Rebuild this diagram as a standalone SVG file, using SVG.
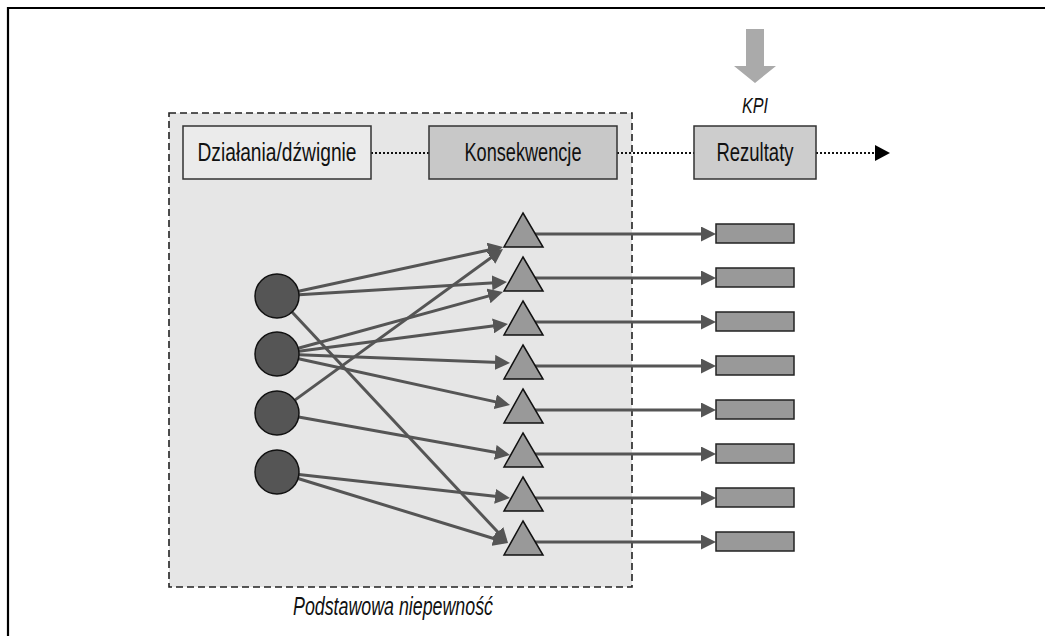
<svg xmlns="http://www.w3.org/2000/svg" width="1045" height="636" viewBox="0 0 1045 636">
<defs>
<style>
.lbl{font-family:"Liberation Sans Narrow","Liberation Sans",Arial,sans-serif;font-size:25px;fill:#111;text-anchor:middle}
.it{font-style:italic}
.box{stroke:#333;stroke-width:1.5}
.dot{stroke:#111;stroke-width:2.2;stroke-dasharray:2 2;fill:none}
.con{stroke:#555;stroke-width:3;fill:none;marker-end:url(#ah)}
.circ{fill:#555;stroke:#111;stroke-width:1.5}
.tri{fill:#999;stroke:#111;stroke-width:1.5}
.out{fill:#999;stroke:#222;stroke-width:1.5}
</style>
<marker id="ah" markerUnits="userSpaceOnUse" markerWidth="15" markerHeight="15" refX="11" refY="7.5" orient="auto">
<path d="M0,0 L15,7.5 L0,15 z" fill="#555"/>
</marker>
<marker id="bh" markerUnits="userSpaceOnUse" markerWidth="15" markerHeight="16" refX="1" refY="8" orient="auto">
<path d="M0,0 L15,8 L0,16 z" fill="#000"/>
</marker>
</defs>
<rect width="1045" height="636" fill="#fff"/>
<path d="M8,636 V8 H1045" fill="none" stroke="#000" stroke-width="2.2"/>

<g id="uncertainty">
<rect x="169" y="113" width="463" height="474" fill="#e6e6e6" stroke="#222" stroke-width="1.6" stroke-dasharray="7 4"/>
<text class="lbl it" x="393" y="615" textLength="200" lengthAdjust="spacingAndGlyphs">Podstawowa niepewność</text>
</g>

<g id="kpi">
<path d="M746,29 H764 V66 H776 L755,83 L734,66 H746 Z" fill="#aaa"/>
<text class="lbl it" x="755" y="113" style="font-size:22px" textLength="26" lengthAdjust="spacingAndGlyphs">KPI</text>
</g>

<g id="connectors">
<line class="dot" x1="371" y1="153" x2="429" y2="153"/>
<line class="dot" x1="617" y1="153" x2="694" y2="153"/>
<line class="dot" x1="816" y1="153" x2="876" y2="153" marker-end="url(#bh)"/>

<line class="con" x1="298.5" y1="291.3" x2="499.1" y2="247.8"/>
<line class="con" x1="299" y1="294.7" x2="503" y2="282.2"/>
<line class="con" x1="292" y1="312" x2="505.3" y2="540.1"/>
<line class="con" x1="298.2" y1="348.2" x2="499.1" y2="293.1"/>
<line class="con" x1="298.8" y1="351.2" x2="504" y2="324.5"/>
<line class="con" x1="299" y1="354.8" x2="506" y2="362.8"/>
<line class="con" x1="298.5" y1="358.7" x2="506.1" y2="404.1"/>
<line class="con" x1="294.8" y1="400.1" x2="499.8" y2="251.3"/>
<line class="con" x1="298.6" y1="416.9" x2="506.1" y2="454.3"/>
<line class="con" x1="298.9" y1="474.4" x2="506" y2="497.6"/>
<line class="con" x1="298" y1="478.5" x2="504.2" y2="541.8"/>

<line class="con" x1="530" y1="234" x2="712" y2="234"/>
<line class="con" x1="530" y1="278" x2="712" y2="278"/>
<line class="con" x1="530" y1="322" x2="712" y2="322"/>
<line class="con" x1="530" y1="366" x2="712" y2="366"/>
<line class="con" x1="530" y1="410" x2="712" y2="410"/>
<line class="con" x1="530" y1="454" x2="712" y2="454"/>
<line class="con" x1="530" y1="498" x2="712" y2="498"/>
<line class="con" x1="530" y1="542" x2="712" y2="542"/>
</g>

<g id="dzialania">
<rect class="box" x="183" y="126" width="188" height="53" fill="#ebebeb"/>
<text class="lbl" x="277" y="161" textLength="159" lengthAdjust="spacingAndGlyphs">Działania/dźwignie</text>
</g>
<g id="konsekwencje">
<rect class="box" x="429" y="126" width="188" height="53" fill="#c8c8c8"/>
<text class="lbl" x="523" y="161" textLength="117" lengthAdjust="spacingAndGlyphs">Konsekwencje</text>
</g>
<g id="rezultaty">
<rect class="box" x="694" y="126" width="122" height="53" fill="#cdcdcd"/>
<text class="lbl" x="755" y="161" textLength="77" lengthAdjust="spacingAndGlyphs">Rezultaty</text>
</g>

<g id="c1"><circle class="circ" cx="277" cy="296" r="22"/></g>
<g id="c2"><circle class="circ" cx="277" cy="354" r="22"/></g>
<g id="c3"><circle class="circ" cx="277" cy="413" r="22"/></g>
<g id="c4"><circle class="circ" cx="277" cy="472" r="22"/></g>

<g id="t1"><polygon class="tri" points="523,213 543,247 504,247"/></g>
<g id="t2"><polygon class="tri" points="523,257 543,291 504,291"/></g>
<g id="t3"><polygon class="tri" points="523,301 543,335 504,335"/></g>
<g id="t4"><polygon class="tri" points="523,345 543,379 504,379"/></g>
<g id="t5"><polygon class="tri" points="523,389 543,423 504,423"/></g>
<g id="t6"><polygon class="tri" points="523,433 543,467 504,467"/></g>
<g id="t7"><polygon class="tri" points="523,477 543,511 504,511"/></g>
<g id="t8"><polygon class="tri" points="523,521 543,555 504,555"/></g>

<g id="r1"><rect class="out" x="716" y="224" width="78" height="19"/></g>
<g id="r2"><rect class="out" x="716" y="268" width="78" height="19"/></g>
<g id="r3"><rect class="out" x="716" y="312" width="78" height="19"/></g>
<g id="r4"><rect class="out" x="716" y="356" width="78" height="19"/></g>
<g id="r5"><rect class="out" x="716" y="400" width="78" height="19"/></g>
<g id="r6"><rect class="out" x="716" y="444" width="78" height="19"/></g>
<g id="r7"><rect class="out" x="716" y="488" width="78" height="19"/></g>
<g id="r8"><rect class="out" x="716" y="532" width="78" height="19"/></g>
</svg>
